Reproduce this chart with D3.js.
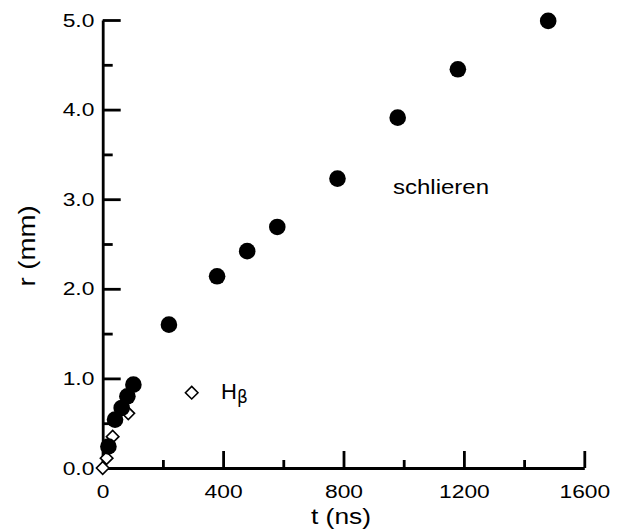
<!DOCTYPE html>
<html>
<head>
<meta charset="utf-8">
<script src="https://cdn.jsdelivr.net/npm/d3@7"></script>
<style>
    body { margin: 0; background: #fff; }
    svg { display: block; }
    text { font-family: "Liberation Sans", Arial, Helvetica, sans-serif; fill: #000; }
</style>
</head>
<body>
<svg id="chart" width="623" height="531"></svg>
<script>
// schlieren (filled circles)
var schlierenT = [19, 41, 63, 82, 102, 220, 380, 480, 580, 780, 980, 1180, 1480];
var schlierenR = [0.24, 0.54, 0.67, 0.80, 0.93, 1.60, 2.14, 2.42, 2.69, 3.23, 3.91, 4.45, 4.99];

// H-beta (open diamonds)
var hbetaT = [0, 13, 33, 85];
var hbetaR = [0.0, 0.11, 0.35, 0.61];

// ticks
var xMajor = [0, 400, 800, 1200, 1600];
var xMinor = [200, 600, 1000, 1400];
var yMajor = [0, 1, 2, 3, 4, 5];
var yMinor = [0.5, 1.5, 2.5, 3.5, 4.5];

var svg = d3.select("#chart");
var stretch = 1.2;

var x = d3.scaleLinear().domain([0, 1600]).range([102.7, 584.3]);
var y = d3.scaleLinear().domain([0, 5]).range([468, 20]);

function styleAxis(g) {
    g.selectAll("path, line")
        .attr("stroke", "#000")
        .attr("stroke-width", 2.8);
}

// X axis
svg.append("g")
    .attr("class", "axis")
    .attr("transform", "translate(0," + y(0) + ")")
    .call(d3.axisBottom(x).tickValues(xMajor).tickSize(-17).tickSizeOuter(0).tickPadding(17)
        .tickFormat(d3.format("d")))
    .call(styleAxis);
svg.append("g")
    .attr("transform", "translate(0," + y(0) + ")")
    .call(d3.axisBottom(x).tickValues(xMinor).tickSize(-8).tickFormat(""))
    .call(function (g) { g.select(".domain").remove(); })
    .call(styleAxis);

// Y axis
svg.append("g")
    .attr("class", "axis")
    .attr("transform", "translate(" + x(0) + ",0)")
    .call(d3.axisLeft(y).tickValues(yMajor).tickSize(-18).tickSizeOuter(0).tickPadding(7)
        .tickFormat(d3.format(".1f")))
    .call(styleAxis);
svg.append("g")
    .attr("transform", "translate(" + x(0) + ",0)")
    .call(d3.axisLeft(y).tickValues(yMinor).tickSize(-10).tickFormat(""))
    .call(function (g) { g.select(".domain").remove(); })
    .call(styleAxis);

svg.selectAll(".axis").attr("font-family", null).attr("font-size", null);
svg.selectAll(".axis text")
    .style("font-size", "19px")
    .attr("transform", "scale(" + stretch + ",1)");

// axis titles
svg.append("text")
    .attr("transform", "translate(341,524) scale(" + stretch + ",1)")
    .attr("text-anchor", "middle")
    .style("font-size", "22px")
    .text("t (ns)");

svg.append("text")
    .attr("transform", "translate(35,246) rotate(-90) scale(" + stretch + ",1)")
    .attr("text-anchor", "middle")
    .style("font-size", "23px")
    .text("r (mm)");

// diamonds first, circles on top
var diamond = d3.symbol().type(d3.symbolDiamond2).size(100);

svg.append("g").selectAll("path")
    .data(d3.range(hbetaT.length))
    .enter().append("path")
    .attr("d", diamond)
    .attr("transform", function (i) {
        return "translate(" + x(hbetaT[i]) + "," + y(hbetaR[i]) + ")";
    })
    .attr("fill", "#fff")
    .attr("stroke", "#000")
    .attr("stroke-width", 1.6);

svg.append("g").selectAll("circle")
    .data(d3.range(schlierenT.length))
    .enter().append("circle")
    .attr("cx", function (i) { return x(schlierenT[i]); })
    .attr("cy", function (i) { return y(schlierenR[i]); })
    .attr("r", 8.3)
    .attr("fill", "#000");

// labels
svg.append("text")
    .attr("transform", "translate(393,194) scale(" + stretch + ",1)")
    .style("font-size", "20px")
    .text("schlieren");

svg.append("path")
    .attr("d", diamond)
    .attr("transform", "translate(191.7,392.7)")
    .attr("fill", "#fff")
    .attr("stroke", "#000")
    .attr("stroke-width", 1.6);

var hb = svg.append("text")
    .attr("x", 221)
    .attr("y", 398.5)
    .style("font-size", "22px");
hb.append("tspan").text("H");
hb.append("tspan")
    .attr("dy", 4)
    .attr("font-family", "'DejaVu Sans', sans-serif")
    .style("font-size", "17px")
    .text("β");
</script>
</body>
</html>
